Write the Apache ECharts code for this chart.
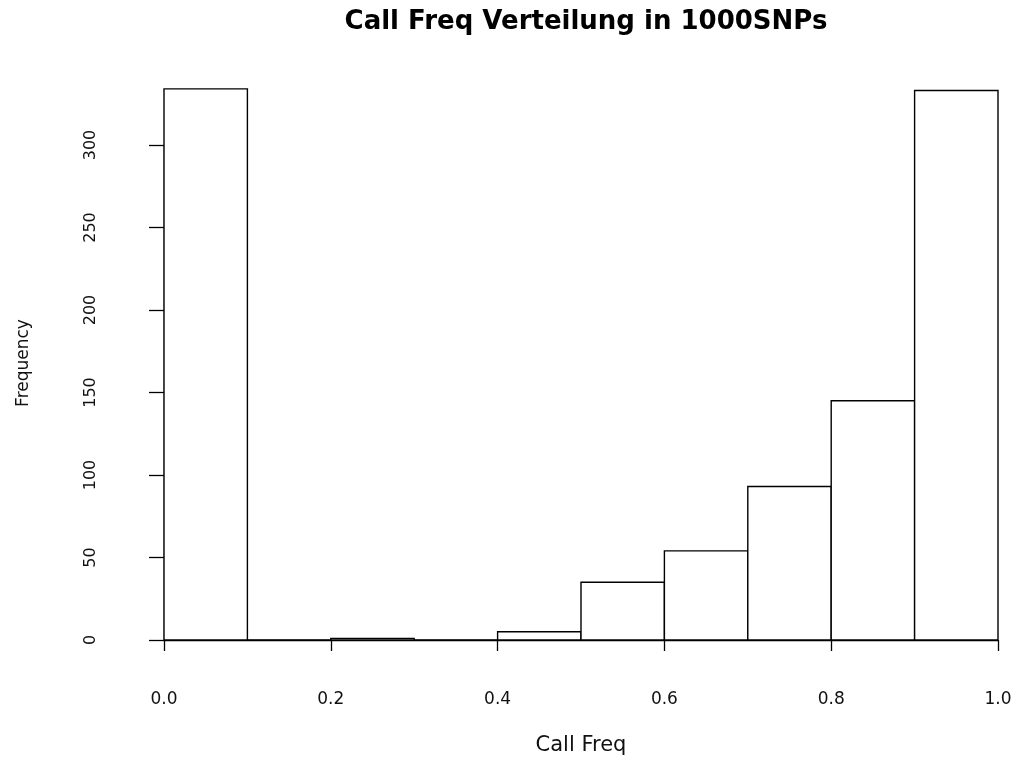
<!DOCTYPE html>
<html>
<head>
<meta charset="utf-8">
<title>Call Freq Verteilung in 1000SNPs</title>
<script src="https://cdn.jsdelivr.net/npm/echarts@6/dist/echarts.min.js"></script>
<style>
  html, body { margin: 0; padding: 0; background: #ffffff; }
  #chart { width: 1020px; height: 757px; }
</style>
</head>
<body>
<div id="chart"></div>
<script>
// Histogram of call frequencies over 1000 SNPs (10 bins of width 0.1)
const binBreaks = [0.0, 0.1, 0.2, 0.3, 0.4, 0.5, 0.6, 0.7, 0.8, 0.9, 1.0];
const binCounts = [334, 0, 1, 0, 5, 35, 54, 93, 145, 333];
const xTickValues = [0.0, 0.2, 0.4, 0.6, 0.8, 1.0];
const yTickValues = [0, 50, 100, 150, 200, 250, 300];

const titleText = 'Call Freq Verteilung in 1000SNPs';
const xLabel = 'Call Freq';
const yLabel = 'Frequency';

// One row per bin: [left edge, right edge, count]
const bins = binCounts.map((c, i) => [binBreaks[i], binBreaks[i + 1], c]);

const FONT = '"DejaVu Sans", "Liberation Sans", Arial, sans-serif';
const INK = '#000000';

const chart = echarts.init(document.getElementById('chart'), null, { renderer: 'canvas' });

chart.setOption({
  animation: false,
  backgroundColor: '#ffffff',
  title: {
    text: titleText,
    left: 581,
    top: 4,
    textAlign: 'center',
    textStyle: { fontFamily: FONT, fontWeight: 'bold', fontSize: 26, color: INK }
  },
  graphic: [{
    type: 'text',
    x: 24,
    y: 363,
    rotation: Math.PI / 2,
    style: {
      text: yLabel,
      fontFamily: FONT,
      fontSize: 17,
      fill: '#111',
      align: 'center',
      verticalAlign: 'middle'
    }
  }],
  grid: [
    // plotting area for the bars and the x axis
    { left: 164, right: 22, top: 62.5, bottom: 117, outerBoundsMode: 'none', containLabel: false },
    // frame for the visible frequency axis (0 to 300)
    { left: 164, right: 22, top: 145, bottom: 117, outerBoundsMode: 'none', containLabel: false }
  ],
  xAxis: [
    {
      gridIndex: 0,
      type: 'value',
      min: 0,
      max: 1,
      interval: 0.2,
      offset: 22,
      splitLine: { show: false },
      axisLine: { show: true, lineStyle: { color: INK, width: 1.3 } },
      axisTick: { show: true, length: 11, lineStyle: { color: INK, width: 1.3 } },
      axisLabel: {
        margin: 29,
        fontFamily: FONT,
        fontSize: 17,
        color: '#111',
        customValues: xTickValues,
        formatter: v => v.toFixed(1)
      },
      name: xLabel,
      nameLocation: 'middle',
      nameGap: 73,
      nameTextStyle: { fontFamily: FONT, fontSize: 21, color: '#111' }
    },
    {
      gridIndex: 1,
      type: 'value',
      min: 0,
      max: 1,
      show: false
    }
  ],
  yAxis: [
    {
      gridIndex: 0,
      type: 'value',
      min: 0,
      max: 350,
      show: false
    },
    {
      gridIndex: 1,
      type: 'value',
      min: 0,
      max: 300,
      interval: 50,
      offset: 34,
      splitLine: { show: false },
      axisLine: { show: true, lineStyle: { color: INK, width: 1.3 } },
      axisTick: { show: true, length: 15, lineStyle: { color: INK, width: 1.3 } },
      axisLabel: {
        rotate: 90,
        margin: 31,
        fontFamily: FONT,
        fontSize: 16,
        color: '#111',
        customValues: yTickValues
      }
    }
  ],
  series: [{
    type: 'custom',
    xAxisIndex: 0,
    yAxisIndex: 0,
    data: bins,
    encode: { x: [0, 1], y: 2 },
    renderItem: function (params, api) {
      const topLeft = api.coord([api.value(0), api.value(2)]);
      const bottomRight = api.coord([api.value(1), 0]);
      return {
        type: 'rect',
        shape: {
          x: topLeft[0],
          y: topLeft[1],
          width: bottomRight[0] - topLeft[0],
          height: bottomRight[1] - topLeft[1]
        },
        style: { fill: '#ffffff', stroke: INK, lineWidth: 1.4 }
      };
    }
  }]
});
</script>
</body>
</html>
